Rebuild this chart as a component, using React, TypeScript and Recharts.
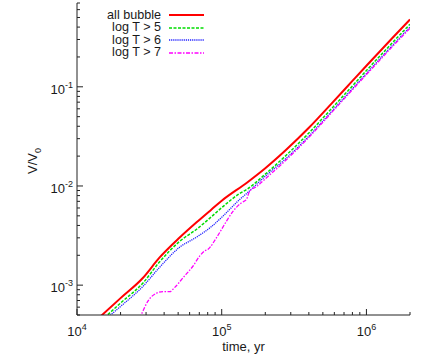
import React from 'react';
import { LineChart, Line, XAxis, YAxis, Legend, Label } from 'recharts';

// time in yr, V/V0 (log-log)
const allBubbleT = [1.4e4, 2.0e4, 2.85e4, 3.7e4, 5.1e4, 6.7e4, 8.5e4, 1.0e5, 1.5e5, 2.0e5, 2.8e5, 4.0e5, 5.8e5, 8.0e5, 1.0e6, 1.5e6, 2.0e6];
const allBubbleV = [4.6e-4, 7.4e-4, 1.18e-3, 1.88e-3, 3.0e-3, 4.3e-3, 5.8e-3, 7.1e-3, 1.086e-2, 1.51e-2, 2.33e-2, 3.86e-2, 6.89e-2, 0.1146, 0.163, 0.307, 0.477];

const logT5T = [1.55e4, 2.0e4, 2.87e4, 3.7e4, 5.1e4, 6.7e4, 8.5e4, 1.02e5, 1.33e5, 1.5e5, 2.0e5, 2.8e5, 4.0e5, 5.8e5, 8.0e5, 1.0e6, 1.5e6, 2.0e6];
const logT5V = [4.7e-4, 6.6e-4, 1.06e-3, 1.7e-3, 2.75e-3, 3.66e-3, 4.9e-3, 6.2e-3, 8.4e-3, 9.3e-3, 1.315e-2, 2.05e-2, 3.42e-2, 6.13e-2, 0.102, 0.146, 0.275, 0.428];

const logT6T = [1.65e4, 2.0e4, 2.87e4, 3.7e4, 5.1e4, 6.7e4, 8.5e4, 1.02e5, 1.33e5, 1.5e5, 2.0e5, 2.8e5, 4.0e5, 5.8e5, 8.0e5, 1.0e6, 1.5e6, 2.0e6];
const logT6V = [4.8e-4, 6.1e-4, 9.8e-4, 1.5e-3, 2.4e-3, 3.05e-3, 3.9e-3, 4.97e-3, 7.3e-3, 8.5e-3, 1.255e-2, 1.91e-2, 3.18e-2, 5.72e-2, 0.0957, 0.1364, 0.258, 0.4];

const logT7T = [2.7e4, 2.79e4, 3.1e4, 3.55e4, 3.94e4, 4.37e4, 4.74e4, 5.41e4, 6.34e4, 7.05e4, 7.63e4, 8.05e4, 9.2e4, 1.08e5, 1.2e5, 1.37e5, 1.48e5, 1.56e5, 1.73e5, 2.0e5, 2.8e5, 4.0e5, 5.8e5, 8.0e5, 1.0e6, 1.5e6, 2.0e6];
const logT7V = [4.6e-4, 5.1e-4, 6.95e-4, 8.3e-4, 8.6e-4, 8.6e-4, 9.5e-4, 1.19e-3, 1.56e-3, 1.97e-3, 2.21e-3, 2.3e-3, 3.01e-3, 4.43e-3, 5.58e-3, 6.78e-3, 7.3e-3, 8.87e-3, 9.8e-3, 1.18e-2, 1.84e-2, 3.09e-2, 5.58e-2, 0.0934, 0.133, 0.251, 0.39];

const xTicks = [1e4, 2e4, 3e4, 4e4, 5e4, 6e4, 7e4, 8e4, 9e4, 1e5, 2e5, 3e5, 4e5, 5e5, 6e5, 7e5, 8e5, 9e5, 1e6, 2e6];
const yTicks = [
  5e-4, 6e-4, 7e-4, 8e-4, 9e-4,
  1e-3, 2e-3, 3e-3, 4e-3, 5e-3, 6e-3, 7e-3, 8e-3, 9e-3,
  1e-2, 2e-2, 3e-2, 4e-2, 5e-2, 6e-2, 7e-2, 8e-2, 9e-2,
  1e-1, 2e-1, 3e-1, 4e-1, 5e-1, 6e-1, 7e-1,
];

const FONT = '"Liberation Sans", Arial, Helvetica, sans-serif';
const FRAME = '#222';
const TEXT = '#1a1a1a';

const toPoints = (t: number[], v: number[]) => t.map((x, i) => ({ x, y: v[i] }));

const series = [
  { name: 'all bubble', data: toPoints(allBubbleT, allBubbleV), color: '#ff0000', width: 2, dash: undefined as string | undefined },
  { name: 'log T > 5', data: toPoints(logT5T, logT5V), color: '#00dd00', width: 1.5, dash: '3 1.5' },
  { name: 'log T > 6', data: toPoints(logT6T, logT6V), color: '#2222ff', width: 1.3, dash: '1.2 0.9' },
  { name: 'log T > 7', data: toPoints(logT7T, logT7V), color: '#ff00ff', width: 1.3, dash: '4 1.5 1.5 1.5' },
];

const decade = (v: number) => {
  const e = Math.log10(v);
  return { e: Math.round(e), major: Math.abs(e - Math.round(e)) < 1e-6 };
};

const BottomTick = (props: any) => {
  const { x, y, payload } = props;
  const { e, major } = decade(payload.value);
  return (
    <g>
      <line x1={x} x2={x} y1={y} y2={y - (major ? 6 : 3)} stroke={FRAME} />
      {major && (
        <text x={x} y={y + 21} textAnchor="middle" fontSize={13} fontFamily={FONT} fill={TEXT}>
          10<tspan dy={-6} fontSize={9}>{e}</tspan>
        </text>
      )}
    </g>
  );
};

const TopTick = (props: any) => {
  const { x, y, payload } = props;
  const { major } = decade(payload.value);
  return <line x1={x} x2={x} y1={y} y2={y + (major ? 6 : 3)} stroke={FRAME} />;
};

const LeftTick = (props: any) => {
  const { x, y, payload } = props;
  const { e, major } = decade(payload.value);
  return (
    <g>
      <line x1={x} x2={x + (major ? 6 : 3)} y1={y} y2={y} stroke={FRAME} />
      {major && (
        <text x={x - 4} y={y + 7} textAnchor="end" fontSize={13} fontFamily={FONT} fill={TEXT}>
          10<tspan dy={-6} fontSize={9}>{e}</tspan>
        </text>
      )}
    </g>
  );
};

const RightTick = (props: any) => {
  const { x, y, payload } = props;
  const { major } = decade(payload.value);
  return <line x1={x} x2={x - (major ? 6 : 3)} y1={y} y2={y} stroke={FRAME} />;
};

const renderLegend = () => (
  <div style={{ fontFamily: FONT, fontSize: 12.6, color: TEXT }}>
    {series.map(s => (
      <div key={s.name} style={{ display: 'flex', alignItems: 'center', height: 12.6 }}>
        <span style={{ width: 71, textAlign: 'right', whiteSpace: 'nowrap', lineHeight: '12.6px' }}>{s.name}</span>
        <svg width={44} height={8} style={{ display: 'block' }}>
          <line x1={8} x2={43} y1={4} y2={4} stroke={s.color} strokeWidth={s.width} strokeDasharray={s.dash} />
        </svg>
      </div>
    ))}
  </div>
);

const YTitle = (props: any) => {
  const { x, y, height } = props.viewBox;
  return (
    <text
      transform={`translate(${x + 20},${y + height / 2 + 2}) rotate(-90)`}
      textAnchor="middle"
      fontSize={13}
      fontFamily={FONT}
      fill={TEXT}
    >
      V/V<tspan dy={4} fontSize={9}>0</tspan>
    </text>
  );
};

const XTitle = (props: any) => {
  const { x, y, width } = props.viewBox;
  return (
    <text x={x + width / 2} y={y + 36} textAnchor="middle" fontSize={13} fontFamily={FONT} fill={TEXT}>
      time, yr
    </text>
  );
};

export default function App() {
  return (
    <div style={{ position: 'absolute', left: 0, top: 0, background: '#fff' }}>
      <LineChart width={436} height={359} margin={{ top: 3, right: 26, bottom: 14, left: 17 }}>
        <XAxis
          dataKey="x"
          type="number"
          scale="log"
          domain={[1e4, 2e6]}
          allowDataOverflow
          ticks={xTicks}
          interval={0}
          tick={<BottomTick />}
          tickLine={false}
          tickSize={0}
          tickMargin={0}
          height={30}
          axisLine={{ stroke: FRAME }}
        >
          <Label content={<XTitle />} />
        </XAxis>
        <XAxis
          xAxisId="top"
          orientation="top"
          dataKey="x"
          type="number"
          scale="log"
          domain={[1e4, 2e6]}
          allowDataOverflow
          ticks={xTicks}
          interval={0}
          tick={<TopTick />}
          tickLine={false}
          tickSize={0}
          tickMargin={0}
          height={0}
          axisLine={{ stroke: FRAME }}
        />
        <YAxis
          dataKey="y"
          type="number"
          scale="log"
          domain={[5e-4, 0.7]}
          allowDataOverflow
          ticks={yTicks}
          interval={0}
          tick={<LeftTick />}
          tickLine={false}
          tickSize={0}
          tickMargin={0}
          width={60}
          axisLine={{ stroke: FRAME }}
        >
          <Label content={<YTitle />} />
        </YAxis>
        <YAxis
          yAxisId="right"
          orientation="right"
          dataKey="y"
          type="number"
          scale="log"
          domain={[5e-4, 0.7]}
          allowDataOverflow
          ticks={yTicks}
          interval={0}
          tick={<RightTick />}
          tickLine={false}
          tickSize={0}
          tickMargin={0}
          width={0}
          axisLine={{ stroke: FRAME }}
        />
        <Legend
          content={renderLegend}
          layout="horizontal"
          verticalAlign="middle"
          align="center"
          wrapperStyle={{ top: 8.7, left: 90, width: 140, height: 52 }}
        />
        {series.map(s => (
          <Line
            key={s.name}
            data={s.data}
            dataKey="y"
            name={s.name}
            type="monotone"
            stroke={s.color}
            strokeWidth={s.width}
            strokeDasharray={s.dash}
            dot={false}
            activeDot={false}
            isAnimationActive={false}
          />
        ))}
      </LineChart>
    </div>
  );
}
